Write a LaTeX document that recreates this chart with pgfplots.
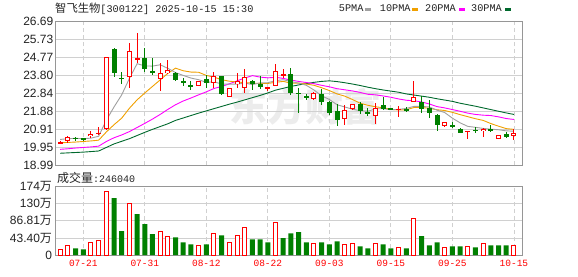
\documentclass[border=0pt]{standalone}
\usepackage{fontspec}
\usepackage{pgfplots}
\pgfplotsset{compat=1.18}
\usepackage{pgfplotstable}
\setmainfont{Liberation Sans}
\newfontfamily\cjk{Noto Sans CJK SC}
\newfontfamily\mono{Liberation Mono}
\definecolor{upred}{RGB}{255,0,0}
\definecolor{dngreen}{RGB}{0,128,0}
\definecolor{mafive}{RGB}{160,160,160}
\definecolor{maten}{RGB}{240,160,0}
\definecolor{matwenty}{RGB}{255,0,255}
\definecolor{mathirty}{RGB}{0,105,45}
\definecolor{gridc}{RGB}{208,208,208}
\definecolor{framec}{RGB}{150,150,150}
\definecolor{wm}{RGB}{236,236,236}
\definecolor{labc}{RGB}{34,34,34}

% red (rising) candles: x open high low close
\pgfplotstableread{
x o h l c
0 20.15 20.28 20.13 20.24
1 20.27 20.57 20.18 20.48
4 20.53 20.80 20.44 20.65
5 20.64 21.01 20.60 20.73
6 20.90 24.76 20.88 24.76
9 23.73 25.52 23.14 25.08
10 24.66 26.06 24.48 24.72
13 23.62 24.47 22.97 23.93
14 23.93 24.61 23.89 24.07
18 23.22 23.48 23.20 23.48
20 23.39 23.98 23.14 23.75
22 22.64 23.12 22.62 23.09
23 23.32 23.93 23.14 23.50
24 23.14 24.11 22.83 23.68
27 23.13 23.15 22.97 23.15
28 23.21 24.38 23.21 24.02
29 23.82 24.14 23.66 23.85
33 22.51 22.88 22.50 22.83
37 21.45 22.20 21.15 21.95
38 21.97 22.28 21.95 22.24
41 21.60 22.30 21.20 22.07
44 21.97 22.17 21.58 22.00
46 22.38 23.50 22.38 22.65
50 21.10 21.27 21.05 21.27
53 20.80 20.83 20.37 20.82
55 20.81 20.96 20.51 20.94
57 20.40 20.58 20.38 20.58
59 20.55 20.94 20.31 20.72
}\redk

% green (falling) candles
\pgfplotstableread{
x o h l c
2 20.44 20.51 20.26 20.42
3 20.40 20.46 20.26 20.37
7 25.19 25.25 23.68 23.93
8 23.66 23.98 23.35 23.60
11 24.72 25.27 23.98 24.16
12 24.02 24.70 23.80 23.90
15 23.93 23.95 23.49 23.54
16 23.50 23.63 23.22 23.38
17 23.27 23.50 23.00 23.16
19 23.62 23.80 23.14 23.39
21 23.75 23.78 22.74 22.79
25 23.48 23.55 23.00 23.32
26 23.32 23.75 23.04 23.18
30 23.88 24.18 22.72 22.86
31 22.86 23.09 21.80 22.82
32 22.70 22.82 22.50 22.58
34 22.82 23.04 22.20 22.34
35 22.38 22.44 21.68 21.80
36 21.88 22.25 21.10 21.42
39 22.27 22.35 21.70 21.90
40 21.82 22.02 21.64 21.70
42 22.20 22.62 21.93 21.97
43 22.02 22.05 21.93 21.97
45 22.00 22.08 21.82 21.88
47 22.38 22.68 21.79 21.97
48 22.02 22.47 21.50 21.80
49 21.67 21.70 20.83 21.12
51 21.12 21.30 20.98 21.09
52 20.92 20.95 20.68 20.72
54 20.86 21.03 20.71 20.84
56 20.90 21.16 20.76 20.88
58 20.67 20.74 20.44 20.50
}\greenk

% moving averages
\pgfplotstableread{
x m5 m10 m20 m30
0 20.36 20.18 19.83 19.62
1 20.40 20.20 19.86 19.64
2 20.42 20.22 19.90 19.66
3 20.40 20.25 19.93 19.68
4 20.43 20.28 19.96 19.71
5 20.53 20.32 20.00 19.74
6 21.39 20.76 20.25 19.93
7 22.10 21.15 20.45 20.12
8 22.75 21.50 20.60 20.26
9 23.63 22.03 20.78 20.40
10 24.42 22.48 21.00 20.57
11 24.30 22.85 21.22 20.74
12 24.29 23.20 21.45 20.90
13 24.36 23.55 21.70 21.05
14 24.17 23.90 21.97 21.20
15 23.94 24.18 22.22 21.38
16 23.79 24.04 22.42 21.51
17 23.65 23.97 22.58 21.64
18 23.56 23.96 22.75 21.77
19 23.42 23.79 22.91 21.89
20 23.45 23.70 23.09 22.01
21 23.33 23.56 23.20 22.13
22 23.32 23.48 23.34 22.25
23 23.32 23.44 23.50 22.36
24 23.38 23.40 23.65 22.48
25 23.30 23.38 23.78 22.60
26 23.39 23.36 23.70 22.72
27 23.40 23.36 23.66 22.85
28 23.51 23.42 23.69 23.00
29 23.56 23.47 23.63 23.10
30 23.46 23.38 23.54 23.20
31 23.38 23.38 23.47 23.28
32 23.26 23.33 23.41 23.35
33 23.01 23.26 23.35 23.42
34 22.70 23.13 23.26 23.47
35 22.50 22.98 23.18 23.50
36 22.22 22.80 23.08 23.46
37 22.10 22.68 23.02 23.40
38 21.98 22.50 22.96 23.33
39 21.90 22.30 22.88 23.25
40 21.87 22.19 22.78 23.16
41 22.00 22.11 22.75 23.08
42 22.01 22.06 22.69 23.01
43 21.95 21.97 22.62 22.95
44 21.97 21.94 22.53 22.89
45 22.02 21.95 22.46 22.80
46 22.13 22.07 22.43 22.74
47 22.13 22.07 22.37 22.68
48 22.10 22.03 22.26 22.62
49 21.93 21.95 22.12 22.54
50 21.80 21.91 22.05 22.47
51 21.50 21.81 21.96 22.40
52 21.25 21.69 21.87 22.30
53 21.06 21.58 21.77 22.22
54 21.01 21.47 21.70 22.14
55 20.95 21.38 21.66 22.05
56 20.91 21.21 21.64 21.96
57 20.88 21.07 21.57 21.87
58 20.82 20.94 21.48 21.78
59 20.80 20.90 21.43 21.70
}\ma

% volume (10k shares), red days
\pgfplotstableread{
x v
0 13.6
1 23.8
4 31.5
5 36.6
6 161.7
9 131.0
13 59.6
14 46.8
18 23.8
20 54.5
22 31.5
23 49.4
24 69.8
28 82.5
33 28.9
37 26.4
38 28.9
41 28.9
44 18.7
46 92.8
50 18.7
53 22.1
55 28.9
59 24.6
}\redv

% volume, green days
\pgfplotstableread{
x v
2 17.0
3 14.5
7 144.7
8 60.4
10 103.8
11 78.3
12 52.8
15 45.1
16 32.3
17 27.2
19 27.2
21 50.2
25 40.0
26 40.0
27 32.3
29 42.6
30 55.3
31 57.9
32 32.3
34 32.3
35 27.2
36 34.9
39 22.1
40 17.0
42 27.2
43 17.0
45 17.0
47 47.7
48 24.7
49 32.3
51 22.1
52 22.1
54 19.6
56 24.7
57 24.7
58 24.7
}\greenv

\pgfplotsset{
  kbase/.style={
    scale only axis, width=466.8pt,
    xmin=-0.61, xmax=60.09,
    axis line style={framec, line width=1pt},
    xtick={3,11,19,27,35,43,51,59},
    major tick length=0pt,
    xmajorgrids, ymajorgrids,
    x grid style={gridc, line width=0.8pt, dash pattern=on 4pt off 3pt},
    y grid style={gridc, line width=0.8pt},
    tick label style={font=\fontsize{12}{14}\selectfont, text=labc},
  },
  wickred/.style={draw=none, forget plot,
    error bars/.cd, y dir=both, y explicit, error mark=none,
    error bar style={draw=upred, line width=1pt, solid}},
  bodyred/.style={draw=none, forget plot,
    error bars/.cd, y dir=both, y explicit, error mark=none,
    error bar style={draw=upred, line width=5pt, solid}},
  bodywhite/.style={draw=none, forget plot,
    error bars/.cd, y dir=both, y explicit, error mark=none,
    error bar style={draw=white, line width=3pt, solid}},
  wickgreen/.style={draw=none, forget plot,
    error bars/.cd, y dir=both, y explicit, error mark=none,
    error bar style={draw=dngreen, line width=1pt, solid}},
  bodygreen/.style={draw=none, forget plot,
    error bars/.cd, y dir=both, y explicit, error mark=none,
    error bar style={draw=dngreen, line width=5pt, solid}},
}

\begin{document}
\begin{tikzpicture}
\useasboundingbox (0,0) rectangle (578pt,-276pt);
\node[text=wm, font=\cjk\bfseries\fontsize{38}{40}\selectfont, anchor=center] at (305pt,-107pt) {东方财富};

\begin{axis}[kbase, at={(55.5pt,-165pt)}, anchor=south west, height=143.7pt,
  ymin=18.99, ymax=26.69,
  ytick={18.99,19.95,20.91,21.88,22.84,23.80,24.77,25.73,26.69},
  yticklabels={18.99,19.95,20.91,21.88,22.84,23.80,24.77,25.73,26.69},
  xticklabel=\empty,
  yticklabel style={inner sep=0pt, xshift=-2pt}]
\addplot[mathirty, line width=0.9pt] table[x=x,y=m30]{\ma};
\addplot[matwenty, line width=0.9pt] table[x=x,y=m20]{\ma};
\addplot[maten, line width=0.9pt] table[x=x,y=m10]{\ma};
\addplot[mafive, line width=0.9pt] table[x=x,y=m5]{\ma};
% red candles
\addplot[wickred] table[x=x, y expr={(\thisrow{h}+\thisrow{l})/2}, y error expr={(\thisrow{h}-\thisrow{l})/2}]{\redk};
\addplot[bodyred] table[x=x, y expr={(\thisrow{o}+\thisrow{c})/2}, y error expr={max((\thisrow{c}-\thisrow{o})/2,0.027)}]{\redk};
\addplot[bodywhite] table[x=x, y expr={(\thisrow{o}+\thisrow{c})/2}, y error expr={max((\thisrow{c}-\thisrow{o})/2-0.054,0)}]{\redk};
% green candles
\addplot[wickgreen] table[x=x, y expr={(\thisrow{h}+\thisrow{l})/2}, y error expr={(\thisrow{h}-\thisrow{l})/2}]{\greenk};
\addplot[bodygreen] table[x=x, y expr={(\thisrow{o}+\thisrow{c})/2}, y error expr={max((\thisrow{o}-\thisrow{c})/2,0.027)}]{\greenk};
\end{axis}

\begin{axis}[kbase, at={(55.5pt,-255pt)}, anchor=south west, height=68.3pt,
  ymin=0, ymax=173.62,
  ytick={0,43.40,86.81,130.21,173.62},
  yticklabels={0,43.40{\cjk 万},86.81{\cjk 万},130{\cjk 万},174{\cjk 万}},
  xticklabels={07-21,07-31,08-12,08-22,09-03,09-15,09-25,10-15},
  xticklabel style={text=upred, font=\mono\fontsize{9.5}{11}\selectfont, yshift=-2pt}]
\addplot[ybar, bar width=4pt, bar shift=0pt, draw=upred, fill=white, line width=1pt] table[x=x,y=v]{\redv};
\addplot[ybar, bar width=5pt, bar shift=0pt, draw=none, fill=dngreen] table[x=x,y=v]{\greenv};
\end{axis}

% title
\node[anchor=west, inner sep=0pt, text=labc] at (55pt,-8.5pt)
  {{\cjk\fontsize{11.3}{13}\selectfont 智飞生物}{\mono\fontsize{10.2}{12}\selectfont [300122] 2025-10-15 15:30}};
% legend
\node[anchor=west, inner sep=0pt, text=labc, font=\mono\fontsize{10.2}{12}\selectfont] at (338.7pt,-8.5pt) {5PMA};
\draw[mafive, line width=2.5pt] (364.7pt,-9.3pt) -- (370.7pt,-9.3pt);
\node[anchor=west, inner sep=0pt, text=labc, font=\mono\fontsize{10.2}{12}\selectfont] at (379.7pt,-8.5pt) {10PMA};
\draw[maten, line width=2.5pt] (412pt,-9.3pt) -- (418pt,-9.3pt);
\node[anchor=west, inner sep=0pt, text=labc, font=\mono\fontsize{10.2}{12}\selectfont] at (425pt,-8.5pt) {20PMA};
\draw[matwenty, line width=2.5pt] (459pt,-9.3pt) -- (465pt,-9.3pt);
\node[anchor=west, inner sep=0pt, text=labc, font=\mono\fontsize{10.2}{12}\selectfont] at (471pt,-8.5pt) {30PMA};
\draw[mathirty, line width=2.5pt] (505pt,-9.3pt) -- (511pt,-9.3pt);
% volume caption
\node[anchor=west, inner sep=0pt, text=labc] at (57pt,-177.7pt)
  {{\cjk\fontsize{12}{14}\selectfont 成交量}{\mono\fontsize{10}{12}\selectfont :246040}};
\end{tikzpicture}
\end{document}
